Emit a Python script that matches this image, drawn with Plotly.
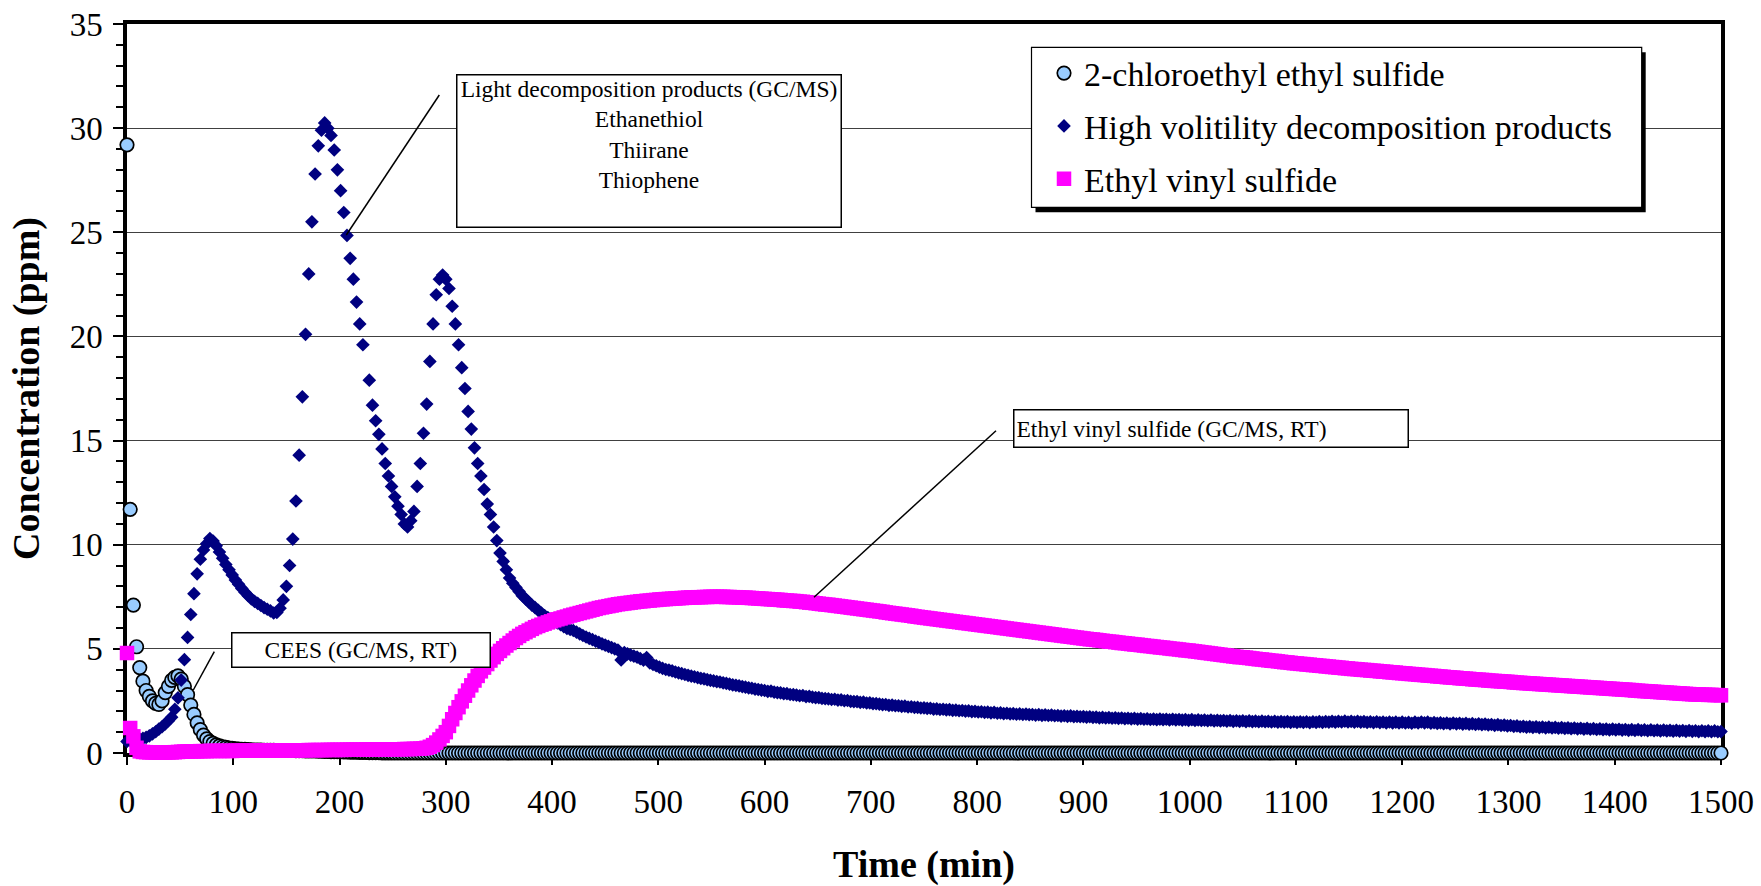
import plotly.graph_objects as go

# ---------------- data (3-minute sampling) ----------------
time_min = list(range(0, 1501, 3))

series_names = [
    "2-chloroethyl ethyl sulfide",
    "High volitility decomposition products",
    "Ethyl vinyl sulfide",
]

cees = [
    29.2, 11.7, 7.1, 5.1, 4.1, 3.45, 3.0, 2.72, 2.5, 2.38,
    2.33, 2.5, 2.9, 3.2, 3.49, 3.63, 3.7, 3.55, 3.2, 2.8,
    2.3, 1.85, 1.45, 1.12, 0.86, 0.68, 0.55, 0.46, 0.39, 0.34,
    0.3, 0.27, 0.24, 0.22, 0.2, 0.19, 0.18, 0.17, 0.16, 0.15,
    0.14, 0.14, 0.14, 0.13, 0.13, 0.13, 0.13, 0.12, 0.12, 0.12,
    0.12, 0.12, 0.12, 0.11, 0.11, 0.11, 0.1, 0.1, 0.1, 0.1,
    0.09, 0.09, 0.08, 0.08, 0.07, 0.07, 0.06, 0.06, 0.05, 0.05,
    0.04, 0.04, 0.04, 0.03, 0.03, 0.03, 0.02, 0.02, 0.02, 0.02,
    0.01, 0.01, 0.01, 0.01, 0, 0, 0, 0, 0, 0,
    0, 0, 0, 0, 0, 0, 0, 0, 0, 0,
    0, 0, 0, 0, 0, 0, 0, 0, 0, 0,
    0, 0, 0, 0, 0, 0, 0, 0, 0, 0,
    0, 0, 0, 0, 0, 0, 0, 0, 0, 0,
    0, 0, 0, 0, 0, 0, 0, 0, 0, 0,
    0, 0, 0, 0, 0, 0, 0, 0, 0, 0,
    0, 0, 0, 0, 0, 0, 0, 0, 0, 0,
    0, 0, 0, 0, 0, 0, 0, 0, 0, 0,
    0, 0, 0, 0, 0, 0, 0, 0, 0, 0,
    0, 0, 0, 0, 0, 0, 0, 0, 0, 0,
    0, 0, 0, 0, 0, 0, 0, 0, 0, 0,
    0, 0, 0, 0, 0, 0, 0, 0, 0, 0,
    0, 0, 0, 0, 0, 0, 0, 0, 0, 0,
    0, 0, 0, 0, 0, 0, 0, 0, 0, 0,
    0, 0, 0, 0, 0, 0, 0, 0, 0, 0,
    0, 0, 0, 0, 0, 0, 0, 0, 0, 0,
    0, 0, 0, 0, 0, 0, 0, 0, 0, 0,
    0, 0, 0, 0, 0, 0, 0, 0, 0, 0,
    0, 0, 0, 0, 0, 0, 0, 0, 0, 0,
    0, 0, 0, 0, 0, 0, 0, 0, 0, 0,
    0, 0, 0, 0, 0, 0, 0, 0, 0, 0,
    0, 0, 0, 0, 0, 0, 0, 0, 0, 0,
    0, 0, 0, 0, 0, 0, 0, 0, 0, 0,
    0, 0, 0, 0, 0, 0, 0, 0, 0, 0,
    0, 0, 0, 0, 0, 0, 0, 0, 0, 0,
    0, 0, 0, 0, 0, 0, 0, 0, 0, 0,
    0, 0, 0, 0, 0, 0, 0, 0, 0, 0,
    0, 0, 0, 0, 0, 0, 0, 0, 0, 0,
    0, 0, 0, 0, 0, 0, 0, 0, 0, 0,
    0, 0, 0, 0, 0, 0, 0, 0, 0, 0,
    0, 0, 0, 0, 0, 0, 0, 0, 0, 0,
    0, 0, 0, 0, 0, 0, 0, 0, 0, 0,
    0, 0, 0, 0, 0, 0, 0, 0, 0, 0,
    0, 0, 0, 0, 0, 0, 0, 0, 0, 0,
    0, 0, 0, 0, 0, 0, 0, 0, 0, 0,
    0, 0, 0, 0, 0, 0, 0, 0, 0, 0,
    0, 0, 0, 0, 0, 0, 0, 0, 0, 0,
    0, 0, 0, 0, 0, 0, 0, 0, 0, 0,
    0, 0, 0, 0, 0, 0, 0, 0, 0, 0,
    0, 0, 0, 0, 0, 0, 0, 0, 0, 0,
    0, 0, 0, 0, 0, 0, 0, 0, 0, 0,
    0,
]

high_volatility = [
    0.55, 0.6, 0.62, 0.65, 0.67, 0.7, 0.75, 0.82, 0.92, 1.02,
    1.15, 1.26, 1.4, 1.55, 1.72, 2.1, 2.65, 3.5, 4.48, 5.55,
    6.65, 7.65, 8.6, 9.3, 9.75, 10.05, 10.3, 10.18, 9.95, 9.65,
    9.35, 9.05, 8.8, 8.55, 8.3, 8.1, 7.9, 7.72, 7.55, 7.4,
    7.28, 7.18, 7.08, 6.98, 6.9, 6.82, 6.72, 6.75, 6.95, 7.35,
    8.0, 9.0, 10.27, 12.1, 14.3, 17.1, 20.1, 23.0, 25.5, 27.8,
    29.15, 29.9, 30.25, 30.0, 29.65, 28.95, 28.0, 27.0, 25.95, 24.85,
    23.75, 22.75, 21.65, 20.6, 19.6, None, 17.9, 16.7, 15.95, 15.3,
    14.6, 13.9, 13.3, 12.8, 12.3, 11.85, 11.45, 11.0, 10.85, 11.15,
    11.6, 12.8, 13.9, 15.35, 16.75, 18.8, 20.6, 22.0, 22.75, 22.95,
    22.75, 22.3, 21.45, 20.6, 19.6, 18.5, 17.5, 16.4, 15.55, 14.65,
    13.9, 13.3, 12.65, 11.95, 11.45, 10.85, 10.2, 9.6, 9.2, 8.8,
    8.4, 8.15, 7.95, 7.75, 7.55, 7.4, 7.25, 7.1, 6.98, 6.85,
    6.72, 6.6, 6.5, 6.42, 6.33, 6.25, 6.16, 6.07, 5.98, 5.93,
    5.88, 5.8, 5.72, 5.64, 5.57, 5.5, 5.44, 5.37, 5.31, 5.24,
    5.18, 5.12, 5.06, 5.0, 4.94, 4.47, 4.82, 4.76, 4.7, 4.65,
    4.6, 4.53, 4.46, 4.58, 4.32, 4.25, 4.19, 4.12, 4.06, 4.01,
    3.98, 3.94, 3.89, 3.85, 3.81, 3.77, 3.73, 3.69, 3.66, 3.62,
    3.58, 3.56, 3.52, 3.49, 3.46, 3.43, 3.41, 3.37, 3.34, 3.31,
    3.27, 3.25, 3.22, 3.19, 3.16, 3.13, 3.11, 3.07, 3.05, 3.02,
    3.0, 2.96, 2.97, 2.92, 2.9, 2.89, 2.85, 2.85, 2.81, 2.8,
    2.78, 2.75, 2.76, 2.71, 2.72, 2.68, 2.66, 2.66, 2.62, 2.61,
    2.6, 2.57, 2.58, 2.54, 2.55, 2.51, 2.52, 2.48, 2.47, 2.47,
    2.43, 2.44, 2.4, 2.41, 2.37, 2.37, 2.35, 2.32, 2.33, 2.29,
    2.3, 2.27, 2.27, 2.24, 2.25, 2.21, 2.22, 2.19, 2.19, 2.16,
    2.17, 2.14, 2.15, 2.11, 2.12, 2.09, 2.1, 2.07, 2.08, 2.05,
    2.06, 2.03, 2.04, 2.01, 2.02, 1.99, 2.0, 1.97, 1.98, 1.95,
    1.96, 1.93, 1.95, 1.91, 1.93, 1.89, 1.91, 1.88, 1.89, 1.86,
    1.88, 1.85, 1.87, 1.84, 1.85, 1.82, 1.84, 1.81, 1.83, 1.8,
    1.82, 1.79, 1.8, 1.77, 1.79, 1.76, 1.78, 1.75, 1.76, 1.74,
    1.75, 1.72, 1.74, 1.71, 1.72, 1.69, 1.71, 1.68, 1.7, 1.67,
    1.69, 1.66, 1.68, 1.65, 1.67, 1.64, 1.66, 1.63, 1.65, 1.62,
    1.64, 1.61, 1.63, 1.6, 1.63, 1.6, 1.62, 1.59, 1.62, 1.59,
    1.61, 1.58, 1.6, 1.57, 1.6, 1.56, 1.59, 1.56, 1.58, 1.55,
    1.58, 1.54, 1.57, 1.54, 1.56, 1.53, 1.56, 1.52, 1.55, 1.52,
    1.55, 1.51, 1.54, 1.51, 1.53, 1.5, 1.53, 1.5, 1.52, 1.49,
    1.52, 1.48, 1.51, 1.48, 1.51, 1.47, 1.5, 1.47, 1.5, 1.47,
    1.5, 1.46, 1.5, 1.47, 1.51, 1.47, 1.51, 1.48, 1.52, 1.48,
    1.52, 1.49, 1.53, 1.49, 1.52, 1.48, 1.52, 1.48, 1.51, 1.47,
    1.5, 1.46, 1.5, 1.46, 1.49, 1.45, 1.49, 1.45, 1.48, 1.44,
    1.48, 1.44, 1.47, 1.43, 1.48, 1.44, 1.49, 1.45, 1.48, 1.43,
    1.46, 1.42, 1.45, 1.41, 1.44, 1.4, 1.44, 1.4, 1.43, 1.39,
    1.42, 1.38, 1.41, 1.37, 1.4, 1.36, 1.39, 1.35, 1.37, 1.33,
    1.36, 1.32, 1.34, 1.3, 1.32, 1.28, 1.3, 1.26, 1.28, 1.24,
    1.27, 1.23, 1.26, 1.22, 1.25, 1.21, 1.24, 1.2, 1.23, 1.19,
    1.22, 1.18, 1.21, 1.17, 1.2, 1.16, 1.19, 1.15, 1.18, 1.14,
    1.17, 1.13, 1.16, 1.12, 1.15, 1.11, 1.15, 1.11, 1.14, 1.1,
    1.13, 1.09, 1.12, 1.08, 1.12, 1.08, 1.11, 1.07, 1.11, 1.07,
    1.1, 1.06, 1.1, 1.06, 1.09, 1.05, 1.09, 1.05, 1.08, 1.04,
    1.08, 1.04, 1.07, 1.03, 1.07, 1.03, 1.06, 1.02, 1.06, 1.02,
    1.03,
]

ethyl_vinyl_sulfide = [
    4.8, 1.2, 0.8, 0.25, 0.08, 0.05, 0.04, 0.03, 0.03, 0.02,
    0.02, 0.02, 0.02, 0.03, 0.03, 0.04, 0.05, 0.06, 0.07, 0.07,
    0.08, 0.08, 0.08, 0.09, 0.09, 0.09, 0.1, 0.1, 0.1, 0.1,
    0.1, 0.1, 0.1, 0.1, 0.11, 0.11, 0.11, 0.11, 0.11, 0.11,
    0.11, 0.11, 0.12, 0.12, 0.12, 0.12, 0.12, 0.12, 0.12, 0.12,
    0.12, 0.13, 0.13, 0.13, 0.13, 0.13, 0.13, 0.14, 0.14, 0.14,
    0.14, 0.14, 0.14, 0.15, 0.15, 0.15, 0.15, 0.15, 0.15, 0.16,
    0.16, 0.16, 0.16, 0.16, 0.16, 0.17, 0.17, 0.17, 0.17, 0.17,
    0.17, 0.17, 0.18, 0.18, 0.18, 0.18, 0.18, 0.19, 0.19, 0.19,
    0.2, 0.2, 0.21, 0.22, 0.25, 0.3, 0.38, 0.5, 0.65, 0.82,
    1.0, 1.3, 1.62, 1.92, 2.2, 2.48, 2.75, 3.0, 3.25, 3.48,
    3.7, 3.92, 4.1, 4.27, 4.44, 4.6, 4.76, 4.9, 5.03, 5.16,
    5.28, 5.4, 5.52, 5.62, 5.72, 5.8, 5.88, 5.96, 6.04, 6.1,
    6.16, 6.21, 6.27, 6.32, 6.37, 6.42, 6.46, 6.51, 6.55, 6.6,
    6.64, 6.68, 6.72, 6.76, 6.8, 6.84, 6.88, 6.92, 6.96, 6.99,
    7.02, 7.05, 7.08, 7.11, 7.14, 7.16, 7.18, 7.2, 7.22, 7.24,
    7.26, 7.28, 7.29, 7.31, 7.32, 7.34, 7.35, 7.37, 7.38, 7.39,
    7.4, 7.41, 7.42, 7.43, 7.44, 7.45, 7.46, 7.47, 7.47, 7.48,
    7.48, 7.49, 7.49, 7.5, 7.5, 7.5, 7.5, 7.5, 7.49, 7.49,
    7.48, 7.48, 7.47, 7.46, 7.46, 7.45, 7.44, 7.43, 7.42, 7.41,
    7.4, 7.39, 7.38, 7.37, 7.36, 7.35, 7.33, 7.32, 7.31, 7.3,
    7.29, 7.27, 7.26, 7.24, 7.22, 7.21, 7.19, 7.17, 7.15, 7.13,
    7.12, 7.1, 7.08, 7.06, 7.04, 7.02, 7.0, 6.98, 6.96, 6.94,
    6.92, 6.9, 6.88, 6.86, 6.84, 6.82, 6.8, 6.78, 6.75, 6.73,
    6.71, 6.69, 6.67, 6.65, 6.63, 6.61, 6.59, 6.56, 6.54, 6.52,
    6.5, 6.48, 6.46, 6.44, 6.42, 6.4, 6.38, 6.36, 6.34, 6.32,
    6.3, 6.28, 6.26, 6.24, 6.22, 6.2, 6.18, 6.16, 6.14, 6.12,
    6.1, 6.08, 6.06, 6.04, 6.02, 6.0, 5.98, 5.96, 5.94, 5.92,
    5.9, 5.88, 5.86, 5.84, 5.82, 5.8, 5.78, 5.76, 5.74, 5.72,
    5.7, 5.68, 5.66, 5.64, 5.62, 5.6, 5.58, 5.56, 5.54, 5.52,
    5.5, 5.48, 5.46, 5.45, 5.43, 5.41, 5.39, 5.37, 5.35, 5.34,
    5.32, 5.3, 5.28, 5.27, 5.25, 5.23, 5.21, 5.2, 5.18, 5.16,
    5.14, 5.13, 5.11, 5.09, 5.07, 5.06, 5.04, 5.02, 5.0, 4.99,
    4.97, 4.95, 4.93, 4.92, 4.9, 4.88, 4.86, 4.84, 4.82, 4.8,
    4.78, 4.76, 4.74, 4.72, 4.7, 4.68, 4.66, 4.64, 4.62, 4.6,
    4.6, 4.58, 4.56, 4.54, 4.52, 4.5, 4.49, 4.47, 4.45, 4.43,
    4.42, 4.4, 4.38, 4.36, 4.35, 4.33, 4.31, 4.3, 4.28, 4.27,
    4.25, 4.24, 4.22, 4.21, 4.19, 4.18, 4.16, 4.15, 4.13, 4.12,
    4.1, 4.09, 4.07, 4.06, 4.04, 4.03, 4.02, 4.0, 3.99, 3.98,
    3.96, 3.95, 3.94, 3.92, 3.91, 3.9, 3.88, 3.87, 3.86, 3.84,
    3.83, 3.82, 3.8, 3.79, 3.78, 3.76, 3.75, 3.74, 3.72, 3.71,
    3.7, 3.68, 3.67, 3.66, 3.64, 3.63, 3.62, 3.61, 3.59, 3.58,
    3.57, 3.56, 3.54, 3.53, 3.52, 3.51, 3.5, 3.48, 3.47, 3.46,
    3.45, 3.44, 3.43, 3.42, 3.41, 3.39, 3.38, 3.37, 3.36, 3.35,
    3.34, 3.33, 3.32, 3.31, 3.3, 3.29, 3.28, 3.27, 3.26, 3.25,
    3.24, 3.23, 3.22, 3.21, 3.2, 3.19, 3.18, 3.17, 3.16, 3.15,
    3.14, 3.13, 3.12, 3.11, 3.1, 3.09, 3.08, 3.07, 3.06, 3.05,
    3.04, 3.03, 3.02, 3.0, 2.99, 2.98, 2.97, 2.96, 2.95, 2.94,
    2.93, 2.92, 2.91, 2.9, 2.89, 2.88, 2.87, 2.86, 2.85, 2.84,
    2.83, 2.82, 2.81, 2.81, 2.8, 2.8, 2.79, 2.79, 2.78, 2.78,
    2.77,
]

x_ticks = list(range(0, 1501, 100))
y_ticks = list(range(0, 36, 5))
x_range = [0, 1500]
y_range = [0, 35]

callout_light = "Light decomposition products (GC/MS)<br>Ethanethiol<br>Thiirane<br>Thiophene"
callout_cees = "CEES (GC/MS, RT)"
callout_evs = "Ethyl vinyl sulfide (GC/MS, RT)"

# ---------------- layout geometry (pixels) ----------------
W, H = 1761, 886
M_L, M_R, M_T, M_B = 127, 40, 24, 133
PLOT_W = W - M_L - M_R
PLOT_H = H - M_T - M_B
FONT = "Liberation Serif, Times New Roman, serif"


def paper_x(px):
    return (px - M_L) / PLOT_W


def paper_y(py):
    return (H - M_B - py) / PLOT_H


def axis_x(px):
    return x_range[0] + paper_x(px) * (x_range[1] - x_range[0])


def axis_y(py):
    return y_range[0] + paper_y(py) * (y_range[1] - y_range[0])


fig = go.Figure()

fig.add_trace(go.Scatter(
    x=time_min, y=cees, mode="markers", name=series_names[0],
    legendgroup="g1", cliponaxis=False,
    marker=dict(symbol="circle", size=13.5, color="#99CCFF",
                line=dict(color="black", width=1.7)),
))
fig.add_trace(go.Scatter(
    x=time_min, y=high_volatility, mode="markers", name=series_names[1],
    legendgroup="g2", cliponaxis=False,
    marker=dict(symbol="diamond", size=10.5, color="#000080",
                line=dict(width=0)),
))
fig.add_trace(go.Scatter(
    x=time_min, y=ethyl_vinyl_sulfide, mode="markers", name=series_names[2],
    legendgroup="g3", cliponaxis=False,
    marker=dict(symbol="square", size=14.5, color="#FF00FF",
                line=dict(width=0)),
))

shapes = [
    # legend drop shadow and frame
    dict(type="rect", xref="paper", yref="paper",
         x0=paper_x(1035.5), x1=paper_x(1645.7), y0=paper_y(212.3), y1=paper_y(52.3),
         fillcolor="black", line=dict(width=0), layer="above"),
    dict(type="rect", xref="paper", yref="paper",
         x0=paper_x(1031.5), x1=paper_x(1641.7), y0=paper_y(207.3), y1=paper_y(47.3),
         fillcolor="white", line=dict(color="black", width=1.2), layer="above"),
    # callout leader lines
    dict(type="line", xref="x", yref="y",
         x0=axis_x(439.3), y0=axis_y(95), x1=axis_x(346.3), y1=axis_y(235),
         line=dict(color="black", width=1.5), layer="above"),
    dict(type="line", xref="x", yref="y",
         x0=axis_x(214.3), y0=axis_y(651.7), x1=axis_x(193.3), y1=axis_y(690),
         line=dict(color="black", width=1.5), layer="above"),
    dict(type="line", xref="x", yref="y",
         x0=axis_x(996), y0=axis_y(430.7), x1=axis_x(814), y1=axis_y(597.3),
         line=dict(color="black", width=1.5), layer="above"),
]

annotations = [
    dict(text=callout_light, xref="x", yref="y",
         x=axis_x(455.7), y=axis_y(74.3), xanchor="left", yanchor="top",
         showarrow=False, width=383, height=151, align="center", valign="top",
         bgcolor="white", bordercolor="black", borderwidth=1.5, borderpad=0,
         font=dict(family=FONT, size=23.5, color="black")),
    dict(text=callout_cees, xref="x", yref="y",
         x=axis_x(231), y=axis_y(632.3), xanchor="left", yanchor="top",
         showarrow=False, width=256.7, height=33, align="center", valign="middle",
         bgcolor="white", bordercolor="black", borderwidth=1.5, borderpad=0,
         font=dict(family=FONT, size=23.5, color="black")),
    dict(text=callout_evs, xref="x", yref="y",
         x=axis_x(1012.7), y=axis_y(409.3), xanchor="left", yanchor="top",
         showarrow=False, width=388.6, height=32, align="left", valign="middle",
         bgcolor="white", bordercolor="black", borderwidth=1.5, borderpad=2,
         font=dict(family=FONT, size=23.5, color="black")),
]

fig.update_layout(
    width=W, height=H,
    margin=dict(l=M_L, r=M_R, t=M_T, b=M_B, autoexpand=False),
    paper_bgcolor="white", plot_bgcolor="white",
    font=dict(family=FONT, color="black"),
    showlegend=True,
    legend=dict(x=paper_x(1044), y=paper_y(44.5), xanchor="left", yanchor="top",
                bgcolor="rgba(0,0,0,0)", borderwidth=0,
                font=dict(family=FONT, size=34, color="black"),
                tracegroupgap=5.6, itemwidth=30),
    shapes=shapes,
    annotations=annotations,
    xaxis=dict(
        range=x_range, tickmode="array", tickvals=x_ticks,
        ticks="outside", ticklen=8, tickwidth=1.5, tickcolor="black",
        showline=True, linewidth=3.5, linecolor="black", mirror=True,
        showgrid=False, zeroline=False, layer="below traces",
        tickfont=dict(family=FONT, size=33, color="black"),
        ticklabelstandoff=9,
        title=dict(text="Time (min)", standoff=33,
                   font=dict(family=FONT, size=38, color="black", weight="bold")),
    ),
    yaxis=dict(
        range=y_range, tickmode="array", tickvals=y_ticks,
        ticks="outside", ticklen=10, tickwidth=1.5, tickcolor="black",
        minor=dict(dtick=1, ticks="outside", ticklen=7, tickwidth=1.5,
                   tickcolor="black", showgrid=False),
        showline=True, linewidth=3.5, linecolor="black", mirror=True,
        showgrid=True, gridcolor="#404040", gridwidth=1,
        zeroline=False, layer="below traces",
        tickfont=dict(family=FONT, size=33, color="black"),
        ticklabelstandoff=4,
        title=dict(text="Concentration (ppm)", standoff=19,
                   font=dict(family=FONT, size=38, color="black", weight="bold")),
    ),
)

fig.write_html(
    "out.html",
    config={"displayModeBar": False},
    post_script="document.body.style.margin='0';document.body.style.overflow='hidden';",
)
